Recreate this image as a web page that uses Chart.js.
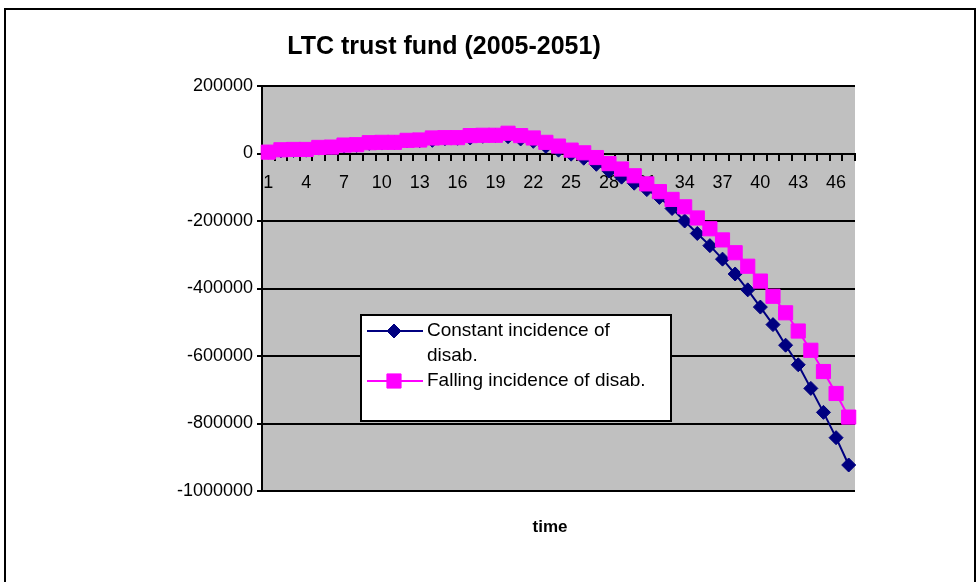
<!DOCTYPE html>
<html>
<head>
<meta charset="utf-8">
<script src="https://cdn.jsdelivr.net/npm/chart.js@4.4.0/dist/chart.umd.min.js"></script>
<style>
html,body{margin:0;padding:0;background:#fff;}
#wrap{width:980px;height:582px;position:relative;}
canvas{display:block;}
</style>
</head>
<body>
<div id="wrap"><canvas id="c" width="980" height="582"></canvas></div>
<script>
const categories = ['1','2','3','4','5','6','7','8','9','10','11','12','13','14','15','16','17','18','19','20','21','22','23','24','25','26','27','28','29','30','31','32','33','34','35','36','37','38','39','40','41','42','43','44','45','46','47'];
const constantIncidence = [4000,8000,9000,10000,16000,17000,22000,24000,30000,31000,32000,37000,38000,39000,44000,45000,46000,51000,53000,50000,43000,36000,21000,10000,-2000,-14000,-32000,-52000,-70000,-88000,-107000,-130000,-163000,-200000,-237000,-273000,-313000,-357000,-404000,-455000,-507000,-568000,-626000,-696000,-767000,-842000,-923000];
const fallingIncidence = [4000,11000,12000,12000,18000,19000,25000,26000,32000,33000,33000,39000,40000,46000,47000,47000,53000,54000,54000,60000,53000,46000,33000,22000,10000,2000,-12000,-30000,-46000,-66000,-90000,-113000,-136000,-158000,-191000,-223000,-256000,-294000,-334000,-378000,-423000,-472000,-526000,-583000,-646000,-711000,-781000];
const yTickValues = [200000,0,-200000,-400000,-600000,-800000,-1000000];
const seriesNames = ['Constant incidence of disab.','Falling incidence of disab.'];
const chartTitle = 'LTC trust fund (2005-2051)';
const xAxisTitle = 'time';

const FONT = "'Liberation Sans', Arial, Helvetica, sans-serif";

function drawMarker(ctx, style, x, y, r, color) {
  ctx.save();
  ctx.fillStyle = color; ctx.strokeStyle = color; ctx.lineWidth = 1;
  ctx.beginPath();
  if (style === 'rectRot') {
    ctx.moveTo(x - r, y); ctx.lineTo(x, y - r); ctx.lineTo(x + r, y); ctx.lineTo(x, y + r);
  } else {
    const s = r * Math.SQRT1_2;
    ctx.rect(x - s, y - s, 2 * s, 2 * s);
  }
  ctx.closePath(); ctx.fill(); ctx.stroke();
  ctx.restore();
}

function wrapText(ctx, text, maxW) {
  const words = text.split(' ');
  const lines = [];
  let cur = '';
  for (const w of words) {
    const t = cur ? cur + ' ' + w : w;
    if (ctx.measureText(t).width > maxW && cur) { lines.push(cur); cur = w; }
    else cur = t;
  }
  if (cur) lines.push(cur);
  return lines;
}

const framePlugin = {
  id: 'framePlugin',
  beforeDraw(chart) {
    const {ctx, chartArea: a} = chart;
    ctx.save();
    ctx.fillStyle = '#fff';
    ctx.fillRect(0, 0, chart.width, chart.height);
    ctx.fillStyle = '#c0c0c0';
    ctx.fillRect(a.left, a.top, a.right - a.left, a.bottom - a.top);
    ctx.strokeStyle = '#000';
    ctx.lineWidth = 2;
    ctx.strokeRect(5, 9, 970, 640);
    ctx.restore();
  },
  afterDraw(chart) {
    const ctx = chart.ctx;
    ctx.save();
    ctx.fillStyle = '#000';
    ctx.textAlign = 'center';
    ctx.textBaseline = 'middle';
    ctx.font = 'bold 25px ' + FONT;
    ctx.fillText(chartTitle, 444, 47);
    ctx.font = 'bold 17px ' + FONT;
    ctx.fillText(xAxisTitle, 550, 527);

    // legend box
    const bx = 361, by = 315, bw = 310, bh = 106;
    ctx.fillStyle = '#fff';
    ctx.fillRect(bx, by, bw, bh);
    ctx.strokeStyle = '#000';
    ctx.lineWidth = 2;
    ctx.strokeRect(bx, by, bw, bh);
    ctx.font = '19px ' + FONT;
    ctx.textAlign = 'left';
    let y = 331;
    chart.data.datasets.forEach(ds => {
      ctx.strokeStyle = ds.borderColor;
      ctx.lineWidth = 2;
      ctx.beginPath(); ctx.moveTo(367, y); ctx.lineTo(423, y); ctx.stroke();
      drawMarker(ctx, ds.pointStyle, 394, y, ds.pointRadius, ds.pointBackgroundColor);
      ctx.fillStyle = '#000';
      const lines = wrapText(ctx, ds.label, 232);
      lines.forEach((ln, k) => ctx.fillText(ln, 427, y + k * 25));
      y += lines.length * 25;
    });
    ctx.restore();
  }
};

new Chart(document.getElementById('c'), {
  type: 'line',
  data: {
    labels: categories,
    datasets: [
      {
        label: seriesNames[0],
        data: constantIncidence,
        borderColor: '#000080',
        backgroundColor: '#000080',
        pointBackgroundColor: '#000080',
        pointBorderColor: '#000080',
        pointStyle: 'rectRot',
        pointRadius: 7,
        pointBorderWidth: 1,
        borderWidth: 2,
        tension: 0,
        order: 1
      },
      {
        label: seriesNames[1],
        data: fallingIncidence,
        borderColor: '#ff00ff',
        backgroundColor: '#ff00ff',
        pointBackgroundColor: '#ff00ff',
        pointBorderColor: '#ff00ff',
        pointStyle: 'rect',
        pointRadius: 10,
        pointBorderWidth: 1,
        borderWidth: 2,
        tension: 0,
        order: 0
      }
    ]
  },
  options: {
    responsive: false,
    animation: false,
    devicePixelRatio: 1,
    layout: { padding: { top: 86, right: 125, bottom: 91, left: 0 } },
    plugins: { legend: { display: false }, tooltip: { enabled: false }, title: { display: false } },
    scales: {
      x: {
        type: 'category',
        position: { y: 0 },
        offset: true,
        grid: { offset: true, drawOnChartArea: false, drawTicks: true, tickLength: 6, color: '#000', lineWidth: 2 },
        border: { display: true, color: '#000', width: 2 },
        ticks: {
          autoSkip: false, maxRotation: 0, minRotation: 0, color: '#000', padding: 13,
          font: { family: FONT, size: 18 },
          callback: function (v, i) { return i % 3 === 0 ? this.getLabelForValue(v) : ''; }
        }
      },
      y: {
        min: yTickValues[yTickValues.length - 1],
        max: yTickValues[0],
        afterFit: s => { s.width = 262; },
        grid: { color: '#000', lineWidth: 2, tickLength: 5, drawTicks: true },
        border: { display: true, color: '#000', width: 2 },
        ticks: {
          stepSize: 200000, color: '#000', padding: 4,
          font: { family: FONT, size: 18 },
          callback: v => String(v)
        }
      }
    }
  },
  plugins: [framePlugin]
});
</script>
</body>
</html>
